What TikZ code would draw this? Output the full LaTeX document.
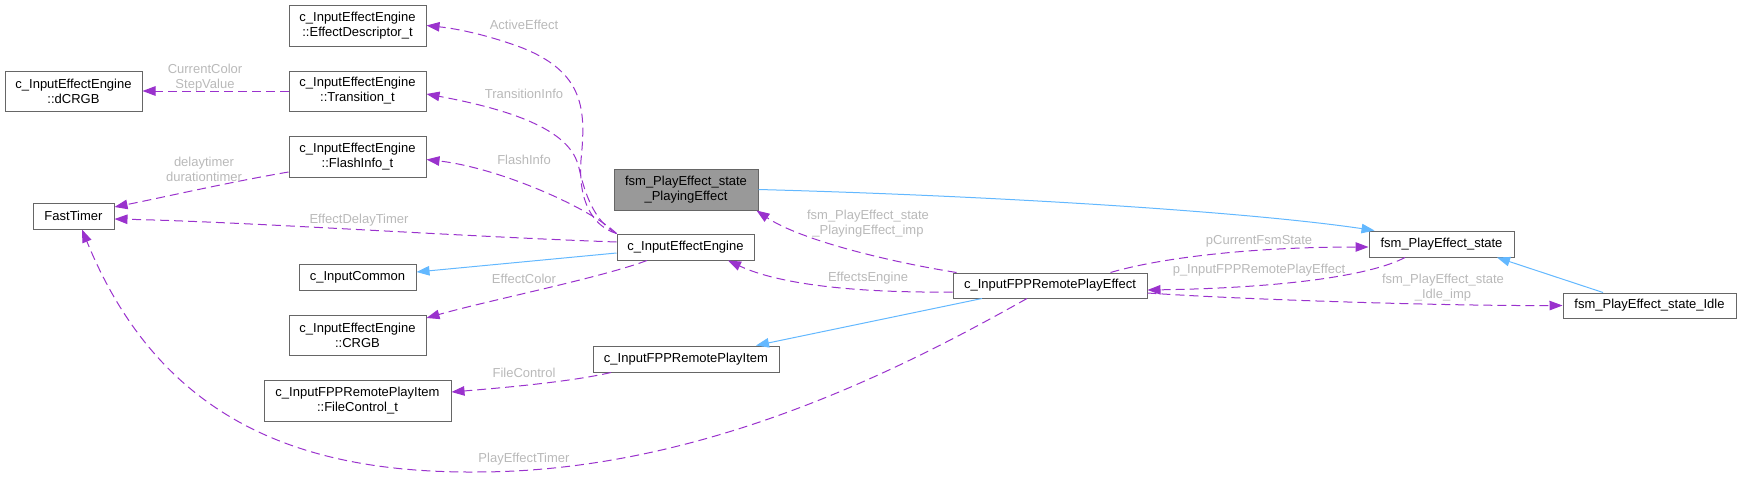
\documentclass[tikz,border=0pt]{standalone}
\usepackage{fontspec}
\setmainfont{Liberation Sans}
\usepackage{tikz}
\usetikzlibrary{arrows.meta,calc}
\definecolor{usepurple}{RGB}{154, 50, 205}
\definecolor{inheritblue}{RGB}{99, 184, 255}
\definecolor{boxgray}{RGB}{102, 102, 102}
\definecolor{lblgray}{RGB}{185, 185, 185}
\definecolor{curfill}{RGB}{153, 153, 153}

\tikzset{
  cls/.style={draw=boxgray, line width=1pt, fill=white, align=center, inner sep=0pt, font=\fontsize{13}{15}\selectfont},
  usage/.style={draw=usepurple, line width=1pt, dash pattern=on 9pt off 5pt, -{Triangle[length=13pt, width=9.5pt]}},
  inherit/.style={draw=inheritblue, line width=1pt, -{Triangle[length=13pt, width=9.5pt]}},
  lbl/.style={text=lblgray, align=center, inner sep=0pt, font=\fontsize{13}{15}\selectfont}
}

\begin{document}
\begin{tikzpicture}[x=1pt, y=-1pt]
        \useasboundingbox (0, 0) rectangle (1741, 479);

        % Classes
        \node[cls, minimum width=137, minimum height=41] (desc) at (357.5, 25.5) {c\_InputEffectEngine\\::EffectDescriptor\_t};
        \node[cls, minimum width=137, minimum height=40] (dcrgb) at (73.5, 91) {c\_InputEffectEngine\\::dCRGB};
        \node[cls, minimum width=137, minimum height=40] (trans) at (357.5, 91) {c\_InputEffectEngine\\::Transition\_t};
        \node[cls, minimum width=137, minimum height=41] (flash) at (357.5, 156.5) {c\_InputEffectEngine\\::FlashInfo\_t};
        \node[cls, minimum width=81, minimum height=26] (timer) at (73.5, 216) {FastTimer};
        \node[cls, fill=curfill, minimum width=144, minimum height=41] (playing) at (686, 189.5) {fsm\_PlayEffect\_state\\\_PlayingEffect};
        \node[cls, minimum width=137, minimum height=26] (engine) at (685.5, 247) {c\_InputEffectEngine};
        \node[cls, minimum width=117, minimum height=26] (common) at (357.5, 277) {c\_InputCommon};
        \node[cls, minimum width=137, minimum height=40] (crgb) at (357.5, 335) {c\_InputEffectEngine\\::CRGB};
        \node[cls, minimum width=186, minimum height=26] (item) at (686, 359) {c\_InputFPPRemotePlayItem};
        \node[cls, minimum width=187, minimum height=41] (filectl) at (357.5, 400.5) {c\_InputFPPRemotePlayItem\\::FileControl\_t};
        \node[cls, minimum width=194, minimum height=25] (remote) at (1050, 285.5) {c\_InputFPPRemotePlayEffect};
        \node[cls, minimum width=145, minimum height=26] (fsm) at (1441.5, 244) {fsm\_PlayEffect\_state};
        \node[cls, minimum width=173, minimum height=25] (idle) at (1649.5, 305.5) {fsm\_PlayEffect\_state\_Idle};

        % Members of c_InputEffectEngine
        \draw[usage] (engine.north west) .. controls (592, 226) and (578, 200) .. (581, 160) .. controls (586, 110) and (585, 72) .. (520, 47) .. controls (490, 36) and (460, 29) .. (desc.east);
        \draw[usage] (engine.north west) .. controls (595, 222) and (585, 195) .. (579, 168) .. controls (573, 140) and (540, 115) .. ([yshift=-3pt]trans.east);
        \draw[usage] (engine.north west) .. controls (590, 208) and (500, 168) .. ([yshift=-3pt]flash.east);
        \draw[usage] ([yshift=5pt]engine.west) .. controls (450, 236) and (250, 222) .. ([yshift=-3pt]timer.east);
        \draw[usage] ([xshift=-38.5pt]engine.south) .. controls (600, 278) and (490, 300) .. ([yshift=17pt]crgb.east);
        \draw[inherit] ([yshift=-6pt]engine.west) -- ([yshift=5pt]common.east);

        % Small structs
        \draw[usage] (trans.west) -- (dcrgb.east);
        \draw[usage] ([yshift=-15.5pt]flash.west) .. controls (230, 182) and (160, 198) .. ([yshift=9pt]timer.east);
        \draw[usage] ([xshift=-75pt]item.south) .. controls (570, 382) and (500, 388) .. ([yshift=8.5pt]filectl.east);

        % Members of c_InputFPPRemotePlayEffect
        \draw[usage] ([yshift=-6.5pt]remote.west) .. controls (860, 293) and (780, 285) .. ([xshift=42.5pt]engine.south);
        \draw[usage] ([xshift=4pt]remote.north west) .. controls (890, 262) and (800, 240) .. ([xshift=-2pt]playing.south east);
        \draw[usage] ([xshift=-37pt]remote.north east) .. controls (1160, 258) and (1250, 247) .. ([yshift=-3pt]fsm.west);
        \draw[usage] ([xshift=-36.5pt]fsm.south) .. controls (1370, 276) and (1280, 288) .. ([yshift=-4.5pt]remote.east);
        \draw[usage] ([yshift=-7.5pt]remote.east) .. controls (1250, 300) and (1450, 306) .. (idle.west);
        \draw[usage] ([xshift=-23pt]remote.south) .. controls (900, 370) and (700, 472) .. (476, 472) .. controls (300, 473) and (160, 420) .. ([xshift=8.5pt]timer.south);

        % Inheritance
        \draw[inherit] (playing.east) .. controls (1000, 196) and (1250, 212) .. ([xshift=6pt]fsm.north west);
        \draw[inherit] ([xshift=-46.5pt]idle.north) -- ([xshift=55.5pt]fsm.south);
        \draw[inherit] ([xshift=-68pt]remote.south) -- ([xshift=70pt]item.north);

        % Edge labels
        \node[lbl] (lActive) at (524, 25) {ActiveEffect};
        \node[lbl] (lTrans) at (524, 94) {TransitionInfo};
        \node[lbl] (lFlash) at (524, 160) {FlashInfo};
        \node[lbl] (lDelay) at (359, 220) {EffectDelayTimer};
        \node[lbl] (lColor) at (524, 279) {EffectColor};
        \node[lbl] (lStep) at (205, 77.5) {CurrentColor\\StepValue};
        \node[lbl] (lTimers) at (204, 169.5) {delaytimer\\durationtimer};
        \node[lbl] (lFile) at (524, 373) {FileControl};
        \node[lbl] (lPlayTimer) at (524, 459) {PlayEffectTimer};
        \node[lbl] (lEngine) at (868, 278) {EffectsEngine};
        \node[lbl] (lPlayingImp) at (868, 224) {fsm\_PlayEffect\_state\\\_PlayingEffect\_imp};
        \node[lbl] (lCurState) at (1259, 241) {pCurrentFsmState};
        \node[lbl] (lRemote) at (1259, 270) {p\_InputFPPRemotePlayEffect};
        \node[lbl] (lIdleImp) at (1443, 288) {fsm\_PlayEffect\_state\\\_Idle\_imp};
\end{tikzpicture}
\end{document}
